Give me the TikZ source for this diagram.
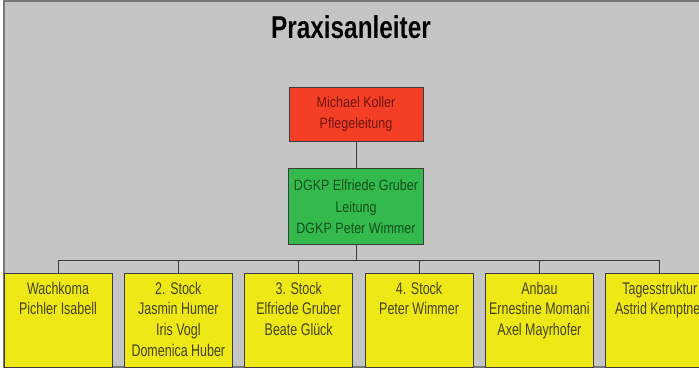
\documentclass[tikz,border=0pt]{standalone}
\usepackage{fontspec}
\setmainfont{Liberation Sans}
\newfontfamily\titlefont[FakeStretch=0.77]{Liberation Sans}
\newfontfamily\leadfont[FakeStretch=0.84]{Liberation Sans}
\newfontfamily\unitfont[FakeStretch=0.74]{Liberation Sans}
\usepackage{tikz}
\usetikzlibrary{
    positioning,
    calc
}
\definecolor{SheetGray}{RGB}{197,197,197}
\definecolor{FrameGray}{RGB}{120,120,120}
\definecolor{LineGray}{RGB}{60,60,60}
\definecolor{HeadRed}{RGB}{245,62,38}
\definecolor{HeadRedText}{RGB}{110,22,12}
\definecolor{LeadGreen}{RGB}{52,186,76}
\definecolor{LeadGreenText}{RGB}{16,80,28}
\definecolor{UnitYellow}{RGB}{238,232,22}
\definecolor{UnitYellowText}{RGB}{70,68,20}

% one station box: top-aligned lines of text
\newcommand{\unittext}[1]{%
    \parbox[c][1.88cm][t]{2.16cm}{\centering\rule{0pt}{0.42cm}#1}%
}

\begin{document}
\begin{tikzpicture}[
    x=0.02cm, y=-0.02cm,
    node distance=0.54cm,
    head/.style={
        draw=LineGray,
        fill=HeadRed,
        text=HeadRedText,
        minimum width=2.68cm,
        minimum height=1.08cm,
        align=center,
        line width=0.5pt,
        font=\leadfont\fontsize{8.5}{12.2}\selectfont
    },
    lead/.style={
        head,
        fill=LeadGreen,
        text=LeadGreenText,
        minimum height=1.52cm
    },
    unit/.style={
        draw=LineGray,
        fill=UnitYellow,
        text=UnitYellowText,
        inner sep=0pt,
        line width=0.5pt,
        font=\unitfont\fontsize{9.6}{11.9}\selectfont
    },
    link/.style={
        draw=LineGray,
        line width=0.5pt
    }
]
%
\useasboundingbox (0,0) rectangle (699,370);
\clip (0,0) rectangle (699,370);
\fill[white] (0,0) rectangle (699,370);
\filldraw[fill=SheetGray, draw=FrameGray, line width=0.6pt]
    (4,1) rectangle (710,367);
%
\node[font=\titlefont\bfseries\fontsize{18}{20}\selectfont] (title) at (351,27) {Praxisanleiter};
%
\node[head] (pflege) at (356,114) {
    Michael Koller\\
    Pflegeleitung
};
%
\node[lead, below=of pflege] (leitung) {
    DGKP Elfriede Gruber\\
    Leitung\\
    DGKP Peter Wimmer
};
%
\node[unit] (wachkoma) at (58,320) {\unittext{Wachkoma\\Pichler Isabell}};
%
\node[unit, right=0.23cm of wachkoma] (stock2) {\unittext{2. Stock\\Jasmin Humer\\Iris Vogl\\Domenica Huber}};
%
\node[unit, right=0.23cm of stock2] (stock3) {\unittext{3. Stock\\Elfriede Gruber\\Beate Glück}};
%
\node[unit, right=0.23cm of stock3] (stock4) {\unittext{4. Stock\\Peter Wimmer}};
%
\node[unit, right=0.23cm of stock4] (anbau) {\unittext{Anbau\\Ernestine Momani\\Axel Mayrhofer}};
%
\node[unit, right=0.23cm of anbau] (tages) {\unittext{Tagesstruktur\\Astrid Kemptner}};
%
\draw[link] (pflege.south) -- (leitung.north);
%
\foreach \u in {wachkoma,stock2,stock3,stock4,anbau,tages}
    \draw[link] (leitung.south) -- ++(0,15) -| (\u.north);
%
\end{tikzpicture}
\end{document}
